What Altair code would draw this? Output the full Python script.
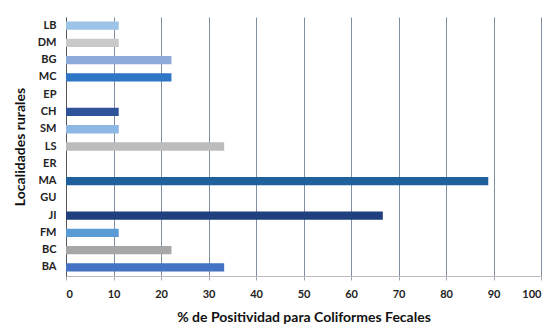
import altair as alt
import pandas as pd

localidades = ["LB", "DM", "BG", "MC", "EP", "CH", "SM", "LS", "ER", "MA", "GU", "JI", "FM", "BC", "BA"]
positividad = [11.1, 11.1, 22.2, 22.2, 0, 11.1, 11.1, 33.3, 0, 88.9, 0, 66.7, 11.1, 22.2, 33.3]
colores = ["#9dc3e6", "#c9c9c9", "#8eaadb", "#2e75c6", "#ffffff", "#2f539a", "#8db8e6",
           "#bcbcbc", "#ffffff", "#1f5f9c", "#ffffff", "#203f7e", "#5b9bd5", "#a6a6a6", "#4472c4"]

df = pd.DataFrame({"loc": localidades, "val": positividad, "col": colores})

chart = alt.Chart(df).mark_bar().encode(
    y=alt.Y("loc:N", sort=localidades,
            scale=alt.Scale(paddingInner=0.52, paddingOuter=0.26),
            axis=alt.Axis(title="Localidades rurales", labelFont="Lato", labelFontWeight="bold",
                          labelFontSize=11, labelColor="#222", labelPadding=10, ticks=False,
                          domain=True, domainColor="#555", titleFont="Lato", titleFontSize=14,
                          titleFontWeight="bold", titleColor="#111", titlePadding=10, grid=False)),
    x=alt.X("val:Q", scale=alt.Scale(domain=[0, 100]),
            axis=alt.Axis(title="% de Positividad para Coliformes  Fecales", values=list(range(0, 101, 10)),
                          labelFont="Lato", labelFontWeight="bold", labelFontSize=11, labelColor="#222",
                          labelPadding=8, tickSize=4, tickColor="#aaa", domainColor="#bbb",
                          gridColor="#7f8ea3", gridWidth=1, titleFont="Lato", titleFontSize=14,
                          titleFontWeight="bold", titleColor="#111", titlePadding=11)),
    color=alt.Color("col:N", scale=None),
).properties(
    width=475, height=259,
    autosize=alt.AutoSizeParams(type="none"),
    padding={"left": 58, "top": 9, "right": 10, "bottom": 48},
).configure_view(stroke=None)

chart.save("out.html", embed_options={"renderer": "svg", "actions": False})
